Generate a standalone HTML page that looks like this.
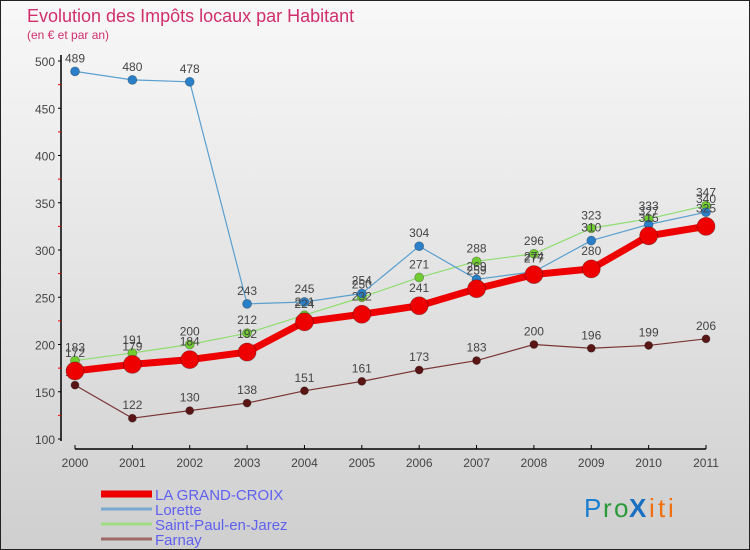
<!DOCTYPE html>
<html><head><meta charset="utf-8"><style>
body{margin:0;}
#wrap{position:relative;width:748px;height:548px;border:1px solid #222;background:linear-gradient(#f8f8f8,#cfcfcf);font-family:"Liberation Sans",sans-serif;overflow:hidden}
</style></head><body>
<div id="wrap">
<svg id="chart" width="748" height="548"></svg>
</div>
<script>
const years=[2000,2001,2002,2003,2004,2005,2006,2007,2008,2009,2010,2011];
const grandCroix=[172,179,184,192,224,232,241,259,274,280,315,325];
const lorette=[489,480,478,243,245,254,304,269,277,310,327,340];
const saintPaul=[183,191,200,212,231,250,271,288,296,323,333,347];
const farnay=[157,122,130,138,151,161,173,183,200,196,199,206];
const yTicks=[100,150,200,250,300,350,400,450,500];
const NS='http://www.w3.org/2000/svg';
const svg=document.getElementById('chart');
const X=i=>74+i*(631/11);
const Y=v=>438-(v-100)*(378/400);
function mk(t,a,p){const e=document.createElementNS(NS,t);for(const k in a)e.setAttribute(k,a[k]);(p||svg).appendChild(e);return e;}
function txt(x,y,s,a){const e=mk('text',Object.assign({x:x,y:y},a));e.textContent=s;return e;}
let e;
e=txt(26,21,'Evolution des Impôts locaux par Habitant',{fill:'#d0306a','font-size':18});

e=txt(26,38,'(en € et par an)',{fill:'#d0306a','font-size':12});

e=mk('line',{x1:60,y1:54,x2:60,y2:440,stroke:'#000','stroke-width':1.5});

e=mk('line',{x1:74,y1:448,x2:705,y2:448,stroke:'#000','stroke-width':1.5});

yTicks.forEach(v=>{
  mk('line',{x1:57,y1:Y(v),x2:60,y2:Y(v),stroke:'#000'});
  if(v<500) mk('line',{x1:57,y1:Y(v+25),x2:60,y2:Y(v+25),stroke:'#e00'});
  e=txt(54,Y(v)+5,String(v),{fill:'#444','font-size':12,'text-anchor':'end'});
  
});
years.forEach((yr,i)=>{
  mk('line',{x1:X(i),y1:444,x2:X(i),y2:448,stroke:'#000'});
  e=txt(X(i),466,String(yr),{fill:'#444','font-size':12,'text-anchor':'middle'});
  
});
function series(data,color,dot,w,r,name,labelOff){
  const g=mk('g',{});
  
  
  mk('polyline',{points:data.map((v,i)=>X(i)+','+Y(v)).join(' '),fill:'none',stroke:color,'stroke-width':w,'stroke-linejoin':'round'},g);
  data.forEach((v,i)=>{
    const c=mk('circle',{cx:X(i),cy:Y(v),r:r,fill:dot,stroke:'rgba(0,0,0,0.3)','stroke-width':0.8},g);
    
    
    const t=txt(X(i),Y(v)-labelOff,String(v),{fill:'#444','font-size':12,'text-anchor':'middle'});
    g.appendChild(t);
  });
}
series(farnay,'#7a3535','#5a1515',1.2,4,'farnay',9);
series(saintPaul,'#90dd70','#70cc30',1.2,4.5,'saint-paul-en-jarez',9);
series(lorette,'#5a9fd0','#2a80c8',1.2,4.5,'lorette',9);
series(grandCroix,'#ee0000','#ee0000',7,9,'la-grand-croix',14);
const legend=[['LA GRAND-CROIX','#ee0000',7],['Lorette','#7aa8d0',3],['Saint-Paul-en-Jarez','#a0dd80',3],['Farnay','#a06a6a',3]];
legend.forEach((l,i)=>{
  const y=493+i*15;
  const g=mk('g',{});
  
  
  mk('line',{x1:100,y1:y,x2:151,y2:y,stroke:l[1],'stroke-width':l[2]},g);
  const t=txt(154,y+6,l[0],{fill:'#6060f0','font-size':15},);g.appendChild(t);
});
e=mk('g',{});
[['P','#1a7fd0',583],['r','#2a9a3a',602],['o','#2a9a3a',613],['X','#1a6fc0',628],['i','#f07010',648],['t','#f07010',657],['i','#f07010',667]].forEach(c=>{
  const t=txt(c[2],516,c[0],{fill:c[1],'font-size':26,'font-weight':c[0]=='X'?'bold':'normal'});e.appendChild(t);
});
</script>
</body></html>
